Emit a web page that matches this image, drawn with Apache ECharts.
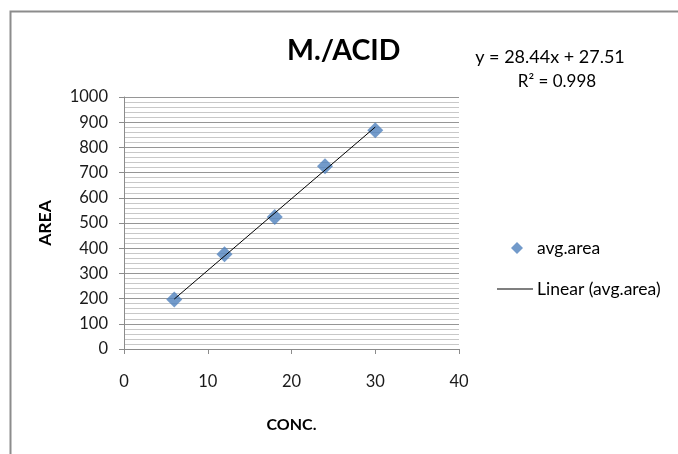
<!DOCTYPE html>
<html>
<head>
<meta charset="utf-8">
<script src="https://cdn.jsdelivr.net/npm/echarts@6/dist/echarts.min.js"></script>
<style>
html,body{margin:0;padding:0;background:#fff;}
#main{width:678px;height:454px;}
</style>
</head>
<body>
<div id="main"></div>
<script>
const concValues = [6, 12, 18, 24, 30];
const avgArea = [196, 376, 524, 725, 868];
const trendX = [6, 30];
const trendY = [198.15, 880.71];
const yTicks = [0, 100, 200, 300, 400, 500, 600, 700, 800, 900, 1000];
const xTicks = [0, 10, 20, 30, 40];
const titleText = 'M./ACID';
const equationText = 'y = 28.44x + 27.51';
const r2Text = 'R² = 0.998';
const seriesName = 'avg.area';
const trendName = 'Linear (avg.area)';

const FONT = 'Lato';
const chart = echarts.init(document.getElementById('main'));
chart.setOption({
  animation: false,
  backgroundColor: '#fff',
  textStyle: { fontFamily: FONT },
  title: {
    text: titleText,
    left: 287, top: 36, padding: 0,
    textStyle: { fontFamily: FONT, fontWeight: 'bold', fontSize: 28.5, color: '#000' }
  },
  graphic: [
    { type: 'rect', left: 8, top: 9, shape: { x: 0, y: 0, width: 800, height: 800 },
      style: { fill: 'none', stroke: '#8c8c8c', lineWidth: 2 }, silent: true },
    { type: 'text', style: { x: 550, y: 57, text: equationText, font: '18px Lato', fill: '#000',
      textAlign: 'center', textVerticalAlign: 'middle' } },
    { type: 'text', style: { x: 557, y: 82, text: r2Text, font: '17px Lato', fill: '#000',
      textAlign: 'center', textVerticalAlign: 'middle' } }
  ],
  legend: [
    { data: [{ name: seriesName, icon: 'diamond' }], orient: 'vertical', left: 511, top: 239, padding: 0,
      itemWidth: 12, itemHeight: 12, itemGap: 0,
      textStyle: { fontFamily: FONT, fontSize: 17.5, color: '#000', padding: [0, 0, 0, 9] } },
    { data: [{ name: trendName, icon: 'path://M0,0 L36,0 L36,1 L0,1 Z' }], orient: 'vertical', left: 497, top: 280, padding: 0,
      itemWidth: 36, itemHeight: 1, itemGap: 0,
      textStyle: { fontFamily: FONT, fontSize: 17.5, color: '#000', padding: [0, 0, 0, -1] } }
  ],
  grid: { left: 124, right: 219, top: 97, bottom: 105, containLabel: false },
  xAxis: {
    type: 'value', min: xTicks[0], max: xTicks[xTicks.length - 1], interval: 10,
    name: 'CONC.', nameLocation: 'middle', nameGap: 68,
    nameTextStyle: { fontFamily: FONT, fontWeight: 'bold', fontSize: 16, color: '#000' },
    axisLine: { show: true, onZero: false, lineStyle: { color: '#8c8c8c', width: 1 } },
    axisTick: { show: true, inside: false, length: 5, lineStyle: { color: '#8c8c8c' } },
    axisLabel: { fontFamily: FONT, fontSize: 16.5, color: '#1a1a1a', margin: 24 },
    splitLine: { show: false }
  },
  yAxis: {
    type: 'value', min: yTicks[0], max: yTicks[yTicks.length - 1], interval: 100,
    name: 'AREA', nameLocation: 'middle', nameGap: 70, nameRotate: 90,
    nameTextStyle: { fontFamily: FONT, fontWeight: 'bold', fontSize: 17.5, color: '#000' },
    axisLine: { show: true, lineStyle: { color: '#8c8c8c', width: 1 } },
    axisTick: { show: true, inside: false, length: 5, lineStyle: { color: '#8c8c8c' } },
    axisLabel: { fontFamily: FONT, fontSize: 16.5, color: '#1a1a1a', margin: 16,
      formatter: v => String(v) },
    splitLine: { show: true, lineStyle: { color: '#969696', width: 1 } },
    minorTick: { show: false, splitNumber: 5 },
    minorSplitLine: { show: true, lineStyle: { color: '#c8c8c8', width: 1 } }
  },
  series: [
    {
      name: seriesName, type: 'scatter', symbol: 'diamond', symbolSize: 16,
      itemStyle: { color: '#4F81BD' },
      data: concValues.map((x, i) => [x, avgArea[i]]), z: 2
    },
    {
      name: trendName, type: 'line', showSymbol: false, symbol: 'none',
      lineStyle: { color: '#000', width: 1 }, itemStyle: { color: '#000' },
      data: trendX.map((x, i) => [x, trendY[i]]), z: 3
    }
  ]
});
</script>
</body>
</html>
